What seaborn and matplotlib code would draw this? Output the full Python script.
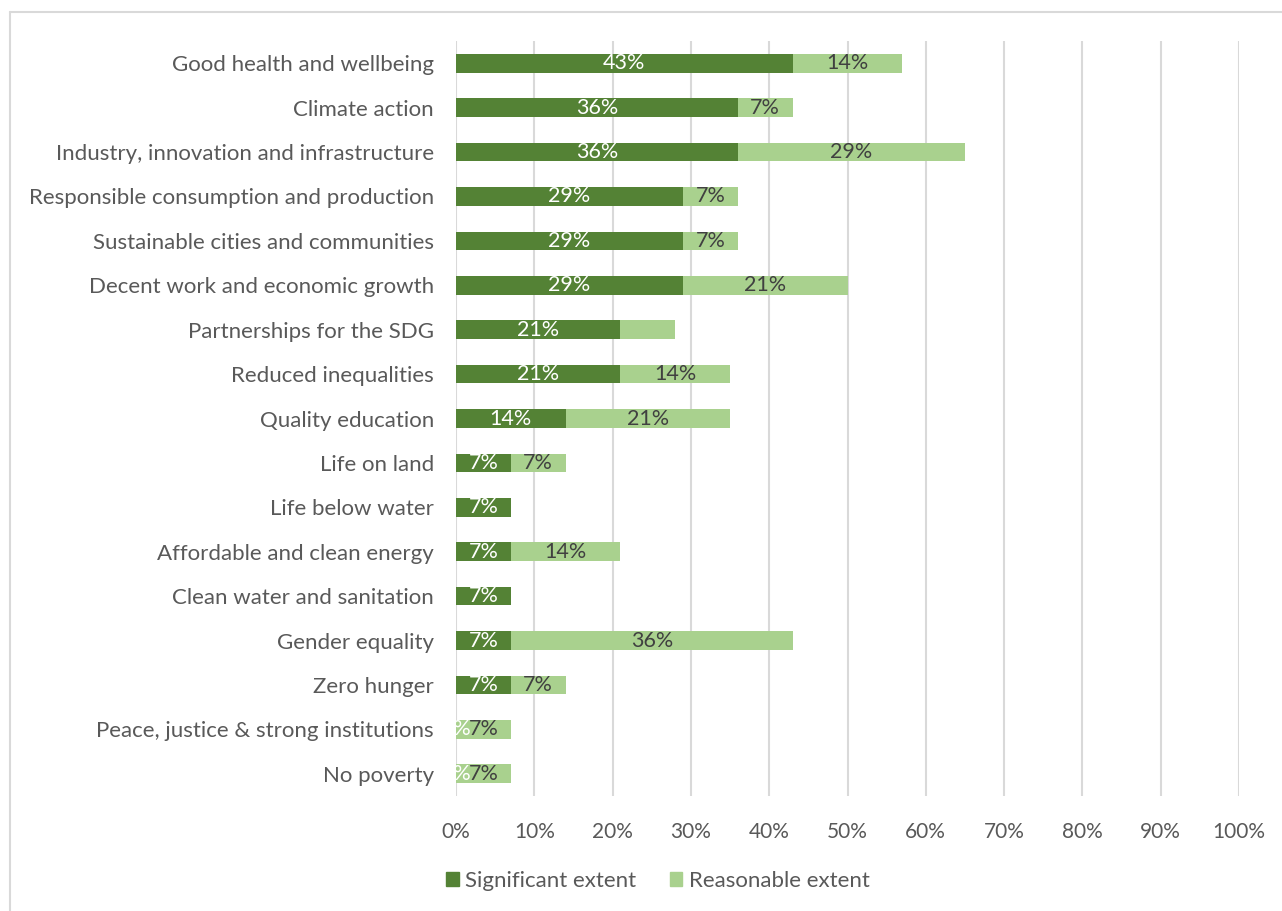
import matplotlib
matplotlib.use("Agg")
import matplotlib.pyplot as plt
from matplotlib.lines import Line2D
from matplotlib.patches import Patch
import seaborn as sns
import pandas as pd

categories = [
    "Good health and wellbeing",
    "Climate action",
    "Industry, innovation and infrastructure",
    "Responsible consumption and production",
    "Sustainable cities and communities",
    "Decent work and economic growth",
    "Partnerships for the SDG",
    "Reduced inequalities",
    "Quality education",
    "Life on land",
    "Life below water",
    "Affordable and clean energy",
    "Clean water and sanitation",
    "Gender equality",
    "Zero hunger",
    "Peace, justice & strong institutions",
    "No poverty",
]
significant = [43, 36, 36, 29, 29, 29, 21, 21, 14, 7, 7, 7, 7, 7, 7, 0, 0]
reasonable = [14, 7, 29, 7, 7, 21, 7, 14, 21, 7, 0, 14, 0, 36, 7, 7, 7]
# categories whose reasonable-extent segment carries no label
unlabelled_reasonable = ["Partnerships for the SDG"]
x_ticks = list(range(0, 101, 10))

DARK = "#548235"
LIGHT = "#A9D18E"
GRID = "#D9D9D9"
TEXT = "#595959"

sns.set_theme(style="white")
plt.rcParams["font.family"] = ["Lato", "DejaVu Sans"]

df = pd.DataFrame({
    "category": categories,
    "significant": significant,
    "reasonable": reasonable,
})
df["total"] = df["significant"] + df["reasonable"]

fig = plt.figure(figsize=(12.82, 9.11), dpi=100)
ax = fig.add_axes([456 / 1282, 1 - 796 / 911, (1239 - 456) / 1282, (796 - 41) / 911])

for x in x_ticks:
    ax.axvline(x, color=GRID, lw=1.5, zorder=0)

# stacked bars: full total in light green, significant share drawn over it
sns.barplot(data=df, y="category", x="total", color=LIGHT, orient="h", errorbar=None,
            width=0.42, saturation=1, linewidth=0, ax=ax, zorder=2)
sns.barplot(data=df, y="category", x="significant", color=DARK, orient="h", errorbar=None,
            width=0.42, saturation=1, linewidth=0, ax=ax, zorder=3)

for i, row in df.iterrows():
    ax.text(row["significant"] / 2, i, f"{row['significant']}%", ha="center",
            va="center", color="white", fontsize=15.5, zorder=4)
    if row["reasonable"] > 0 and row["category"] not in unlabelled_reasonable:
        ax.text(row["significant"] + row["reasonable"] / 2, i,
                f"{row['reasonable']}%", ha="center", va="center",
                color="#404040", fontsize=15.5, zorder=4)

ax.set_xlim(0, 100)
ax.set_ylim(len(categories) - 0.5, -0.5)
ax.set_xticks(x_ticks)
ax.set_xticklabels([f"{t}%" for t in x_ticks], fontsize=15, color=TEXT)
ax.tick_params(axis="y", labelsize=16, labelcolor=TEXT, length=0, pad=16)
ax.tick_params(axis="x", length=0, pad=19)
ax.set_xlabel("")
ax.set_ylabel("")
for s in ax.spines.values():
    s.set_visible(False)

handles = [Patch(color=DARK, label="Significant extent"),
           Patch(color=LIGHT, label="Reasonable extent")]
fig.legend(handles=handles, loc="center", bbox_to_anchor=(658 / 1282, 1 - 881 / 911),
           ncol=2, frameon=False, fontsize=16, labelcolor=TEXT,
           handlelength=0.55, handleheight=0.55, handletextpad=0.3, columnspacing=1.5)

# outer chart frame
x0, y0 = 10 / 1282, 1 - 12 / 911
fig.add_artist(Line2D([x0, 1], [y0, y0], color=GRID, lw=1.5, transform=fig.transFigure))
fig.add_artist(Line2D([x0, x0], [0, y0], color=GRID, lw=1.5, transform=fig.transFigure))

fig.savefig("out.png", dpi=100, facecolor="white")
